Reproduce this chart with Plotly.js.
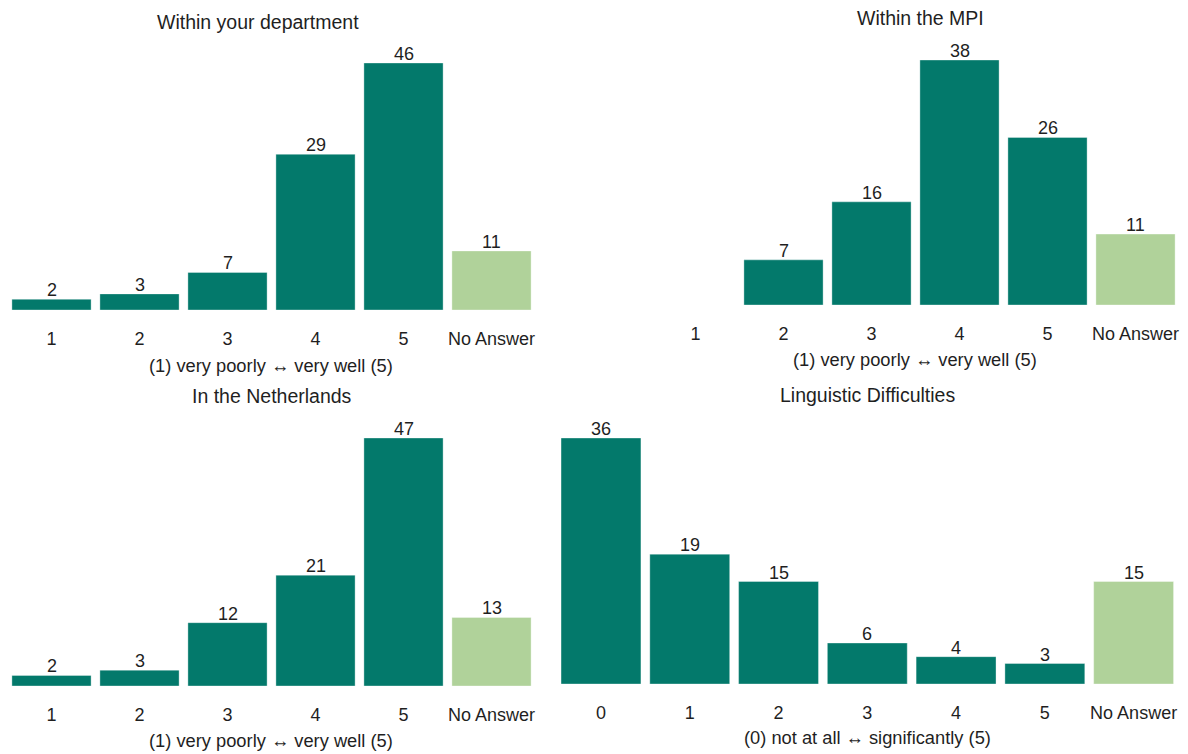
<!DOCTYPE html>
<html>
<head>
<meta charset="utf-8">
<script src="https://cdn.plot.ly/plotly-3.0.1.min.js"></script>
<style>
  html, body { margin: 0; padding: 0; background: #fff; }
  #chart { width: 1188px; height: 754px; }
</style>
</head>
<body>
<div id="chart"></div>
<script>
// Survey answers: how well respondents feel integrated, plus linguistic difficulties
const scaleCats = ["1", "2", "3", "4", "5", "No Answer"];
const lingCats = ["0", "1", "2", "3", "4", "5", "No Answer"];

const deptValues = [2, 3, 7, 29, 46, 11];
const mpiValues = [0, 7, 16, 38, 26, 11];
const nlValues = [2, 3, 12, 21, 47, 13];
const lingValues = [36, 19, 15, 6, 4, 3, 15];

const panelTitles = ["Within your department", "Within the MPI", "In the Netherlands", "Linguistic Difficulties"];
const scaleAxisTitle = "(1) very poorly \u2194 very well (5)";
const lingAxisTitle = "(0) not at all \u2194 significantly (5)";

const TEAL = "#03796b";
const LIGHT = "#b0d29a";
const FONT = "Liberation Sans, Arial, sans-serif";
const TXT = "#1f1f1f";

function barColors(cats) {
  return cats.map(c => c === "No Answer" ? LIGHT : TEAL);
}

function makeBar(cats, vals, xa, ya) {
  return {
    type: "bar",
    x: cats,
    y: vals,
    xaxis: xa,
    yaxis: ya,
    marker: { color: barColors(cats), line: { color: "rgba(255,255,255,0.35)", width: 1 } },
    hoverinfo: "x+y",
    showlegend: false
  };
}

// value labels sitting right on top of each bar (zero counts are left unlabelled);
// on a category axis the annotation x is the category's index
function valueLabels(cats, vals, xa, ya) {
  const out = [];
  cats.forEach((c, i) => {
    if (vals[i] > 0) {
      out.push({
        text: String(vals[i]), x: i, y: vals[i], xref: xa, yref: ya,
        xanchor: "center", yanchor: "bottom", yshift: -3, showarrow: false,
        font: { family: FONT, size: 18, color: TXT }
      });
    }
  });
  return out;
}

const data = [
  makeBar(scaleCats, deptValues, "x", "y"),
  makeBar(scaleCats, mpiValues, "x2", "y2"),
  makeBar(scaleCats, nlValues, "x3", "y3"),
  makeBar(lingCats, lingValues, "x4", "y4")
];

const H = 754, W = 1188;
const py = px => (H - px) / H;
const pxX = px => px / W;

function xAxis(dom, anchor) {
  return {
    domain: dom, anchor: anchor, type: "category",
    showgrid: false, zeroline: false, showline: false,
    ticks: "outside", ticklen: 12, tickcolor: "rgba(0,0,0,0)",
    tickfont: { family: FONT, size: 18, color: TXT },
    fixedrange: true
  };
}
function yAxis(dom, anchor, top) {
  return {
    domain: dom, anchor: anchor, range: [0, top],
    visible: false, showgrid: false, zeroline: false, fixedrange: true
  };
}

function ann(text, xPx, yPx, size) {
  return {
    text: text, xref: "paper", yref: "paper",
    x: pxX(xPx), y: py(yPx), xanchor: "center", yanchor: "middle",
    showarrow: false, font: { family: FONT, size: size, color: TXT }
  };
}

const layout = {
  width: W, height: H,
  margin: { l: 0, r: 0, t: 0, b: 0 },
  paper_bgcolor: "#fff", plot_bgcolor: "#fff",
  bargap: 0.1,
  xaxis: xAxis([pxX(7.5), pxX(535.5)], "y"),
  yaxis: yAxis([py(310), py(45)], "x", 265 / 5.37),
  xaxis2: xAxis([pxX(651.5), pxX(1179.5)], "y2"),
  yaxis2: yAxis([py(305), py(45)], "x2", 260 / 6.447),
  xaxis3: xAxis([pxX(7.5), pxX(535.5)], "y3"),
  yaxis3: yAxis([py(686), py(420)], "x3", 266 / 5.277),
  xaxis4: xAxis([pxX(556.6), pxX(1178)], "y4"),
  yaxis4: yAxis([py(684), py(420)], "x4", 264 / 6.833),
  annotations: [
    ann(panelTitles[0], 258, 22, 19.5),
    ann(panelTitles[1], 920, 18, 19.5),
    ann(panelTitles[2], 272, 396, 19.5),
    ann(panelTitles[3], 867, 395, 19.5),
    ann(scaleAxisTitle, 271, 365, 18.3),
    ann(scaleAxisTitle, 915, 359, 18.3),
    ann(scaleAxisTitle, 271, 740, 18.3),
    ann(lingAxisTitle, 867, 737, 18.3)
  ].concat(
    valueLabels(scaleCats, deptValues, "x", "y"),
    valueLabels(scaleCats, mpiValues, "x2", "y2"),
    valueLabels(scaleCats, nlValues, "x3", "y3"),
    valueLabels(lingCats, lingValues, "x4", "y4")
  )
};

Plotly.newPlot("chart", data, layout, { displayModeBar: false, staticPlot: true });
</script>
</body>
</html>
